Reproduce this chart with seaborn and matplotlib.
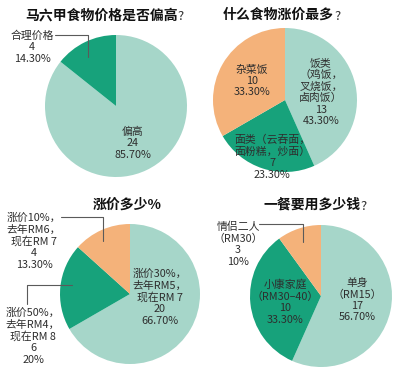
import matplotlib
matplotlib.use("Agg")
import matplotlib.pyplot as plt
import seaborn as sns

sns.set_theme(style="white")
plt.rcParams["font.family"] = ["Noto Sans CJK SC", "DejaVu Sans"]

TEAL = "#a6d6c9"
GREEN = "#17a27b"
ORANGE = "#f4b27a"
TXT = "#2e2e2e"
LINE = "#5a5a5a"

# pie 1
t1 = "马六甲食物价格是否偏高"
n1 = ["偏高", "合理价格"]
v1 = [24, 4]
p1 = ["85.70%", "14.30%"]

# pie 2
t2 = "什么食物涨价最多"
n2 = ["饭类\n（鸡饭，\n叉烧饭，\n卤肉饭）", "面类（云吞面，\n面粉糕，炒面）", "杂菜饭"]
v2 = [13, 7, 10]
p2 = ["43.30%", "23.30%", "33.30%"]

# pie 3
t3 = "涨价多少%"
n3 = ["涨价30%，\n去年RM5，\n现在RM 7", "涨价50%，\n去年RM4，\n现在RM 8", "涨价10%，\n去年RM6，\n现在RM 7"]
v3 = [20, 6, 4]
p3 = ["66.70%", "20%", "13.30%"]

# pie 4
t4 = "一餐要用多少钱"
n4 = ["单身\n（RM15）", "小康家庭\n（RM30–40）", "情侣二人\n（RM30）"]
v4 = [17, 10, 3]
p4 = ["56.70%", "33.30%", "10%"]

H = 385


def Y(py):
    return H - py


fig = plt.figure(figsize=(4.0, 3.85), dpi=100)
ax = fig.add_axes([0, 0, 1, 1])


def draw(title, names, vals, pcts, colors, center, r, tpos, lpos, qmark=True):
    cx, cy = center
    ax.pie(vals, colors=colors, startangle=90, counterclock=False,
           center=(cx, Y(cy)), radius=r, wedgeprops=dict(linewidth=0))
    t = ax.text(tpos[0], Y(tpos[1]), title, fontsize=10, fontweight="bold",
                color="#111111", ha="left", va="center")
    if qmark:
        ax.annotate("?", xy=(1, 0.42), xycoords=t, fontsize=9.5, color="#333333",
                    ha="left", va="center")
    for i, (nm, v, p) in enumerate(zip(names, vals, pcts)):
        ax.text(lpos[i][0], Y(lpos[i][1]), f"{nm}\n{v}\n{p}", fontsize=7.8,
                fontweight="medium", color=TXT, ha="center", va="center",
                linespacing=1.18, multialignment="center")


draw(t1, n1, v1, p1, [TEAL, GREEN], (116, 106), 71, (25, 15),
     [(133, 143), (32, 47)])
ax.plot([55, 88, 88], [Y(35), Y(35), Y(57)], color=LINE, lw=0.8)

draw(t2, n2, v2, p2, [TEAL, GREEN, ORANGE], (285, 100), 72, (223, 15),
     [(321, 92), (272, 157), (252, 81)])

draw(t3, n3, v3, p3, [TEAL, GREEN, ORANGE], (130, 294), 70, (93, 205),
     [(160, 297), (33, 336), (34, 241)], qmark=False)
ax.plot([61, 103, 103], [Y(217), Y(217), Y(241)], color=LINE, lw=0.8)
ax.plot([27, 27, 72], [Y(304), Y(285), Y(285)], color=LINE, lw=0.8)

draw(t4, n4, v4, p4, [TEAL, GREEN, ORANGE], (321, 296), 71, (263, 205),
     [(357, 300), (285, 302), (238, 244)])
ax.plot([259, 303, 303], [Y(224), Y(224), Y(242)], color=LINE, lw=0.8)

ax.set_xlim(0, 400)
ax.set_ylim(0, H)
ax.set_aspect("auto")
ax.axis("off")

fig.savefig("out.png", dpi=100, facecolor="white")
